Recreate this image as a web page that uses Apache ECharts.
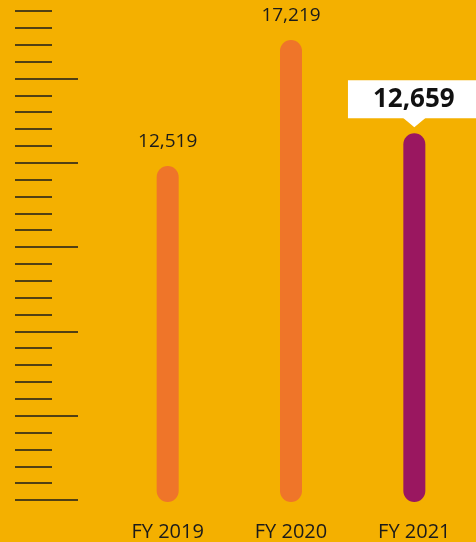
<!DOCTYPE html>
<html>
<head>
<meta charset="utf-8">
<script src="https://cdn.jsdelivr.net/npm/echarts@6/dist/echarts.min.js"></script>
<style>
  html, body { margin: 0; padding: 0; background: #F4B000; }
  #chart { width: 476px; height: 542px; }
</style>
</head>
<body>
<div id="chart"></div>
<script>
// data
const years = ['FY 2019', 'FY 2020', 'FY 2021']
const barValues = [12519, 17219, 13740] // bar heights as drawn (2021 bar is drawn taller than its label)
const valueLabels = ['12,519', '17,219', '12,659']
const rulerMarks = ['0', '1', '2', '3', '4', '5', '6', '7', '8', '9', '10', '11', '12', '13', '14',
  '15', '16', '17', '18', '19', '20', '21', '22', '23', '24', '25', '26', '27', '28', '29']
const majorEvery = 5

const orange = '#EF7529'
const purple = '#9A1760'
const ink = '#1b1b1b'
const font = '"Open Sans", "Noto Sans", sans-serif'

const chart = echarts.init(document.getElementById('chart'), null, { renderer: 'canvas' })

const tickAxis = (length, interval) => ({
  type: 'category',
  gridIndex: 1,
  data: rulerMarks,
  boundaryGap: false,
  position: 'left',
  offset: 0,
  axisLine: { show: false },
  axisLabel: { show: false },
  splitLine: { show: false },
  axisTick: { show: true, inside: true, length, interval, lineStyle: { color: ink, width: 1.5 } }
})

const option = {
  backgroundColor: '#F4B000',
  animation: false,
  grid: [
    { left: 106, width: 373.5, top: 19, bottom: 40 },
    { left: 15, width: 100, top: 11, height: 489 }
  ],
  xAxis: [
    {
      type: 'category',
      data: years,
      gridIndex: 0,
      axisLine: { show: false },
      axisTick: { show: false },
      axisLabel: { color: ink, fontSize: 20, fontFamily: font, margin: 20 }
    },
    { type: 'value', gridIndex: 1, show: false }
  ],
  yAxis: [
    { type: 'value', gridIndex: 0, min: 0, max: 18000, show: false },
    tickAxis(37, 0),
    tickAxis(63, i => i % majorEvery === 0)
  ],
  series: [
    {
      type: 'bar',
      xAxisIndex: 0,
      yAxisIndex: 0,
      barWidth: 22,
      data: barValues.map((v, i) => {
        const last = i === barValues.length - 1
        const item = {
          value: v,
          itemStyle: { color: last ? purple : orange, borderRadius: 11 }
        }
        if (last) {
          item.label = {
            distance: 15,
            backgroundColor: '#fff',
            padding: [6, 26, 6, 25],
            fontSize: 26,
            lineHeight: 26,
            fontWeight: 'bold',
            color: '#111'
          }
        }
        return item
      }),
      label: {
        show: true,
        position: 'top',
        distance: 15,
        color: ink,
        fontSize: 19,
        fontFamily: font,
        formatter: p => valueLabels[p.dataIndex]
      },
      markPoint: {
        silent: true,
        symbol: 'triangle',
        symbolRotate: 180,
        symbolSize: [24, 10],
        symbolOffset: [0, -11],
        itemStyle: { color: '#fff' },
        label: { show: false },
        data: [{ coord: [years[2], barValues[2]] }]
      }
    }
  ]
}

chart.setOption(option)
</script>
</body>
</html>
